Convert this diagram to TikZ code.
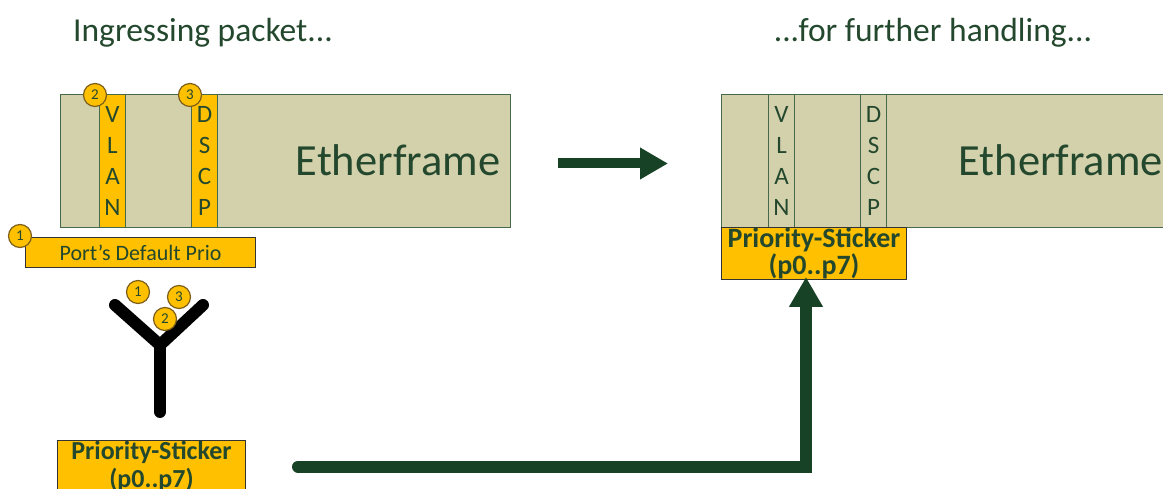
\documentclass[tikz,border=0pt]{standalone}
\usepackage{fontspec}
\setmainfont{Carlito}
\usetikzlibrary{arrows.meta}
\definecolor{khaki}{RGB}{211,209,171}
\definecolor{edge}{RGB}{70,105,75}
\definecolor{amber}{RGB}{255,192,0}
\definecolor{rim}{RGB}{125,95,25}
\definecolor{ink}{RGB}{35,72,45}
\definecolor{flow}{RGB}{24,66,38}
\tikzset{
  frame/.style={draw=edge, fill=khaki, line width=1pt, inner sep=0pt, anchor=north west},
  strip/.style={draw=edge, line width=1pt, inner sep=0pt, anchor=north west,
    minimum width=26pt, minimum height=133pt, text=ink,
    font=\fontsize{25}{31}\selectfont, align=center},
  sticker/.style={draw=black!80, fill=amber, line width=1pt, inner sep=0pt,
    anchor=north west, text=ink, align=center},
  badge/.style={circle, draw=rim, fill=amber, line width=1.2pt,
    minimum size=23pt, inner sep=0pt, text=ink, font=\fontsize{15}{15}\selectfont},
  title/.style={text=ink, font=\fontsize{33.5}{33.5}\selectfont},
  flowline/.style={draw=flow, line cap=round},
}
\begin{document}
\begin{tikzpicture}[x=1pt, y=-1pt]
\useasboundingbox (0,0) rectangle (1163,489);
\clip (0,0) rectangle (1163,489);

% headings
\node[title] (t1) at (203,33) {Ingressing packet...};
\node[title] (t2) at (933,33) {...for further handling...};

% incoming frame
\node[frame, minimum width=450pt, minimum height=133pt] (f1) at (60,94) {};
\node[strip, fill=amber] (v1) at (99,94) {V\\L\\A\\N};
\node[strip, fill=amber] (d1) at (191,94) {D\\S\\C\\P};
\node[text=ink, font=\fontsize{44.5}{44.5}\selectfont] (e1) at (398,160) {Etherframe};

% port default priority
\node[sticker, minimum width=230pt, minimum height=30pt,
  font=\fontsize{22}{22}\selectfont] (port) at (25,237) {Port’s Default Prio};
\node[badge] (c1a) at (20,236) {1};
\node[badge] (c2a) at (95,95) {2};
\node[badge] (c3a) at (190,95) {3};

% forwarded frame
\node[frame, minimum width=500pt, minimum height=133pt] (f2) at (721,94) {};
\node[strip] (v2) at (768,94) {V\\L\\A\\N};
\node[strip] (d2) at (860,94) {D\\S\\C\\P};
\node[text=ink, font=\fontsize{44.5}{44.5}\selectfont, anchor=west] (e2) at (955,160) {Etherframe};
\node[sticker, minimum width=185pt, minimum height=52pt,
  font=\bfseries\fontsize{28}{28}\selectfont] (s2) at (721,227) {Priority-Sticker\\[-1pt](p0..p7)};

% selector
\coordinate (ya) at (115,305);
\coordinate (yb) at (203,305);
\coordinate (yj) at (160,345);
\coordinate (yf) at (160,412);
\draw[line width=12pt, line cap=round, line join=round] (ya) -- (yj) -- (yb);
\draw[line width=12pt, line cap=round] (yj) -- (yf);
\node[badge] (c1b) at (138,292) {1};
\node[badge] (c3b) at (179,297) {3};
\node[badge] (c2b) at (165,319) {2};

% resulting sticker
\node[sticker, minimum width=188pt, minimum height=52pt,
  font=\bfseries\fontsize{26}{28}\selectfont] (s1) at (57,440) {Priority-Sticker\\(p0..p7)};

% flow arrows
\draw[flowline, line width=10pt, line cap=butt, shorten <=47pt, shorten >=53pt,
  -{Triangle[length=28pt,width=30pt]}] ([yshift=-2.5pt]f1.east) -- ([yshift=-2.5pt]f2.west);
\draw[flowline, line width=12pt, line join=miter, shorten <=52pt,
  -{Triangle[length=30pt,width=32pt]}] (s1.east) -| ([xshift=-8pt, yshift=3pt]s2.south);
\end{tikzpicture}
\end{document}
